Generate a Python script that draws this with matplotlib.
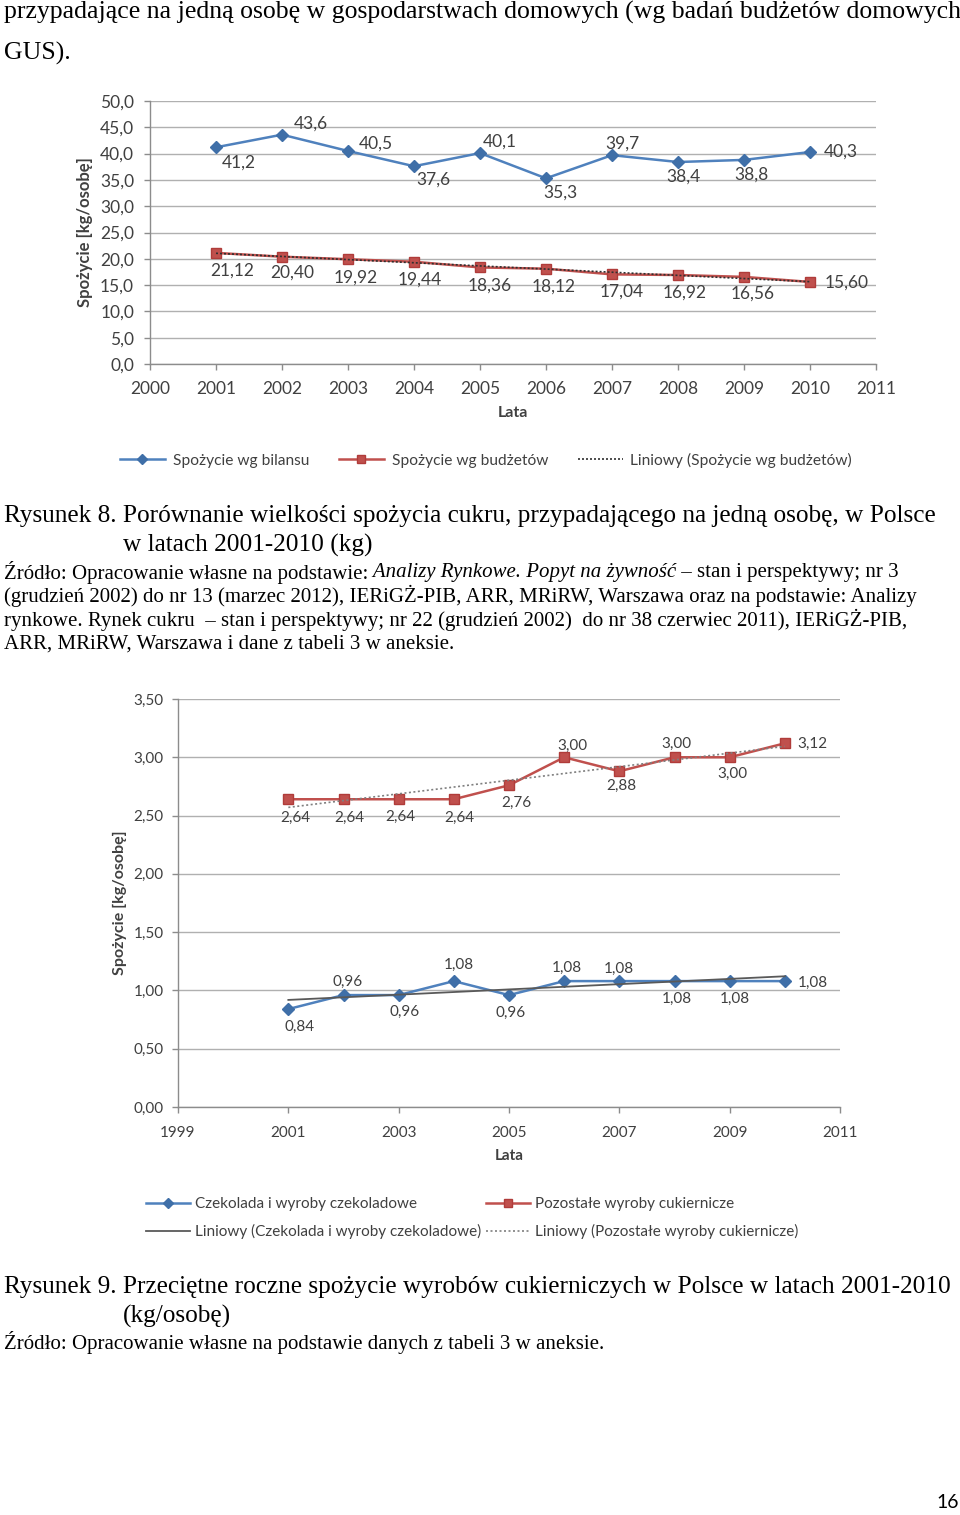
import numpy as np
import matplotlib
matplotlib.use("Agg")
import matplotlib.pyplot as plt
from matplotlib.lines import Line2D
from matplotlib.ticker import FuncFormatter

# ---------------- data ----------------
years = [2001, 2002, 2003, 2004, 2005, 2006, 2007, 2008, 2009, 2010]
bilans = [41.2, 43.6, 40.5, 37.6, 40.1, 35.3, 39.7, 38.4, 38.8, 40.3]
budzety = [21.12, 20.40, 19.92, 19.44, 18.36, 18.12, 17.04, 16.92, 16.56, 15.60]
czekolada = [0.84, 0.96, 0.96, 1.08, 0.96, 1.08, 1.08, 1.08, 1.08, 1.08]
pozostale = [2.64, 2.64, 2.64, 2.64, 2.76, 3.00, 2.88, 3.00, 3.00, 3.12]

legend1 = ["Spożycie wg bilansu", "Spożycie wg budżetów", "Liniowy (Spożycie wg budżetów)"]
legend2 = ["Czekolada i wyroby czekoladowe", "Pozostałe wyroby cukiernicze",
           "Liniowy (Czekolada i wyroby czekoladowe)", "Liniowy (Pozostałe wyroby cukiernicze)"]

# ---------------- style ----------------
W, H = 960, 1515
SERIF = ["Liberation Serif", "DejaVu Serif"]
SANS = ["Lato", "DejaVu Sans"]
BLUE = "#4F81BD"
BLUE_M = "#3F6FA8"
RED = "#C0504D"
RED_M = "#B03C3A"
GRID = "#B0B0B0"
TXT = "#404040"

fig = plt.figure(figsize=(W / 100, H / 100), dpi=100)
fig.patch.set_facecolor("white")
renderer = fig.canvas.get_renderer()


def fx(x):
    return x / W


def fy(y):
    return 1 - y / H


def width_of(text, size, family, style="normal"):
    t = fig.text(0, 0, text, fontsize=size, family=family, style=style)
    w = t.get_window_extent(renderer).width
    t.remove()
    return w


def fit_size(text, target, family, base=18):
    return base * target / width_of(text, base, family)


def rich(x, y, segments, size, family=SERIF):
    for s, style in segments:
        fig.text(fx(x), fy(y), s, fontsize=size, family=family, style=style,
                 va="center", ha="left", color="black")
        x += width_of(s, size, family, style)


# ---------------- page text ----------------
cap_line = "Rysunek 8. Porównanie wielkości spożycia cukru, przypadającego na jedną osobę, w Polsce"
CAP = fit_size(cap_line, 934, SERIF)
src_line = "Źródło: Opracowanie własne na podstawie: Analizy Rynkowe. Popyt na żywność – stan i perspektywy; nr 3"
SRC = fit_size(src_line, 900, SERIF)

top_line = "przypadające na jedną osobę w gospodarstwach domowych (wg badań budżetów domowych"
TOP = fit_size(top_line, 954, SERIF)
rich(4, 12, [(top_line, "normal")], TOP)
rich(4, 53, [("GUS).", "normal")], TOP)

rich(4, 516, [(cap_line, "normal")], CAP)
rich(123, 545, [("w latach 2001-2010 (kg)", "normal")], CAP)
rich(4, 572, [("Źródło: Opracowanie własne na podstawie:", "normal"),
              (" Analizy Rynkowe. Popyt na żywność", "italic"),
              (" – stan i perspektywy; nr 3", "normal")], SRC)
rich(4, 596, [("(grudzień 2002) do nr 13 (marzec 2012), IERiGŻ-PIB, ARR, MRiRW, Warszawa oraz na podstawie: Analizy", "normal")], SRC)
rich(4, 620, [("rynkowe. Rynek cukru  – stan i perspektywy; nr 22 (grudzień 2002)  do nr 38 czerwiec 2011), IERiGŻ-PIB,", "normal")], SRC)
rich(4, 644, [("ARR, MRiRW, Warszawa i dane z tabeli 3 w aneksie.", "normal")], SRC)

rich(4, 1287, [("Rysunek 9. Przeciętne roczne spożycie wyrobów cukierniczych w Polsce w latach 2001-2010", "normal")], CAP)
rich(123, 1316, [("(kg/osobę)", "normal")], CAP)
rich(4, 1343, [("Źródło: Opracowanie własne na podstawie danych z tabeli 3 w aneksie.", "normal")], SRC)

fig.text(fx(948), fy(1503), "16", fontsize=14, family=SANS, ha="center", va="center", color="black")


def style_axes(ax, fmt, size, xpad, ypad):
    ax.set_facecolor("white")
    for s in ("top", "right"):
        ax.spines[s].set_visible(False)
    for s in ("left", "bottom"):
        ax.spines[s].set_color("#8C8C8C")
        ax.spines[s].set_linewidth(1.0)
    ax.grid(axis="y", color=GRID, linewidth=1.0)
    ax.set_axisbelow(True)
    ax.tick_params(axis="both", direction="out", length=4, width=1, color="#8C8C8C",
                   labelcolor=TXT, labelsize=size)
    ax.tick_params(axis="x", pad=xpad)
    ax.tick_params(axis="y", pad=ypad)
    ax.yaxis.set_major_formatter(FuncFormatter(lambda v, p: fmt.format(v).replace(".", ",")))
    for lab in ax.get_xticklabels() + ax.get_yticklabels():
        lab.set_family(SANS)


def labels(ax, xs, ys, offsets, fmt, size):
    for x, y, (dx, dy) in zip(xs, ys, offsets):
        ax.annotate(fmt.format(y).replace(".", ","), (x, y), xytext=(dx, dy),
                    textcoords="offset pixels", ha="center", va="center",
                    fontsize=size, family=SANS, color=TXT)


# ---------------- chart 1 ----------------
ax1 = fig.add_axes([fx(150), fy(364), (876 - 150) / W, (364 - 101) / H])
ax1.set_xlim(2000, 2011)
ax1.set_ylim(0, 50)
ax1.set_xticks(range(2000, 2012))
ax1.set_yticks(np.arange(0, 50.1, 5))
style_axes(ax1, "{:.1f}", 12.5, 8.5, 7.5)

ax1.plot(years, bilans, color=BLUE, lw=1.8, marker="D", ms=6, mfc=BLUE_M, mec=BLUE_M, zorder=3)
ax1.plot(years, budzety, color=RED, lw=1.8, marker="s", ms=7, mfc=RED, mec=RED_M, zorder=3)
c1 = np.polyfit(years, budzety, 1)
ax1.plot([years[0], years[-1]], np.polyval(c1, [years[0], years[-1]]), color="#303030",
         lw=1.2, ls=(0, (1.2, 1.2)), zorder=4)

off_b = [(23, -15), (29, 11), (28, 7), (19, -13), (20, 11), (14, -14), (10, 12), (5, -15), (7, -15), (31, 0)]
off_r = [(16, -18), (10, -16), (8, -18), (6, -18), (10, -18), (8, -18), (10, -17), (7, -18), (9, -17), (37, -1)]
labels(ax1, years, bilans, off_b, "{:.1f}", 12.5)
labels(ax1, years, budzety, off_r, "{:.2f}", 12.5)

ax1.set_ylabel("Spożycie [kg/osobę]", fontsize=12, fontweight="bold", family=SANS, color=TXT)
ax1.yaxis.set_label_coords((93 - 150) / 726, 0.5)
ax1.set_xlabel("Lata", fontsize=11.5, fontweight="bold", family=SANS, color=TXT)
ax1.xaxis.set_label_coords(0.5, -(406 - 364) / 263)

h1 = [Line2D([], [], color=BLUE, lw=1.8, marker="D", ms=5, mfc=BLUE_M, mec=BLUE_M),
      Line2D([], [], color=RED, lw=1.8, marker="s", ms=6, mfc=RED, mec=RED_M),
      Line2D([], [], color="#303030", lw=1.2, ls=(0, (1.2, 1.2)))]
leg1 = fig.legend(h1, legend1, loc="center", bbox_to_anchor=(fx(486), fy(460)), ncol=3,
                  frameon=False, handlelength=2.9, handletextpad=0.5, columnspacing=1.9,
                  borderpad=0, prop={"family": SANS, "size": 11.2})
for t in leg1.get_texts():
    t.set_color(TXT)

# ---------------- chart 2 ----------------
ax2 = fig.add_axes([fx(178), fy(1107), (840 - 178) / W, (1107 - 699) / H])
ax2.set_xlim(1999, 2011)
ax2.set_ylim(0, 3.5)
ax2.set_xticks(range(1999, 2012, 2))
ax2.set_yticks(np.arange(0, 3.51, 0.5))
style_axes(ax2, "{:.2f}", 11, 9.5, 6.5)

ax2.plot(years, czekolada, color=BLUE, lw=1.8, marker="D", ms=6, mfc=BLUE_M, mec=BLUE_M, zorder=3)
ax2.plot(years, pozostale, color=RED, lw=1.8, marker="s", ms=7, mfc=RED, mec=RED_M, zorder=3)
c2 = np.polyfit(years, czekolada, 1)
c3 = np.polyfit(years, pozostale, 1)
ends = [years[0], years[-1]]
ax2.plot(ends, np.polyval(c2, ends), color="#595959", lw=1.3, zorder=4)
ax2.plot(ends, np.polyval(c3, ends), color="#7F7F7F", lw=1.2, ls=(0, (1.2, 1.5)), zorder=4)

off_c = [(11, -18), (4, 13), (6, -17), (5, 16), (2, -18), (3, 13), (0, 12), (2, -18), (5, -18), (28, -2)]
off_p = [(7, -19), (6, -19), (2, -18), (6, -19), (7, -18), (8, 11), (2, -15), (2, 13), (3, -17), (28, -1)]
labels(ax2, years, czekolada, off_c, "{:.2f}", 11)
labels(ax2, years, pozostale, off_p, "{:.2f}", 11)

ax2.set_ylabel("Spożycie [kg/osobę]", fontsize=11.5, fontweight="bold", family=SANS, color=TXT)
ax2.yaxis.set_label_coords((127 - 178) / 662, 0.5)
ax2.set_xlabel("Lata", fontsize=11, fontweight="bold", family=SANS, color=TXT)
ax2.xaxis.set_label_coords(0.5, -(1149 - 1107) / 408)

h2 = [Line2D([], [], color=BLUE, lw=1.8, marker="D", ms=5, mfc=BLUE_M, mec=BLUE_M),
      Line2D([], [], color="#595959", lw=1.3),
      Line2D([], [], color=RED, lw=1.8, marker="s", ms=6, mfc=RED, mec=RED_M),
      Line2D([], [], color="#7F7F7F", lw=1.2, ls=(0, (1.2, 1.5)))]
leg2 = fig.legend(h2, [legend2[0], legend2[2], legend2[1], legend2[3]], loc="center",
                  bbox_to_anchor=(fx(472), fy(1218)), ncol=2, frameon=False,
                  handlelength=2.9, handletextpad=0.3, columnspacing=0.3, labelspacing=0.85,
                  borderpad=0, prop={"family": SANS, "size": 11})
for t in leg2.get_texts():
    t.set_color(TXT)

fig.savefig("out.png", dpi=100, facecolor="white")
